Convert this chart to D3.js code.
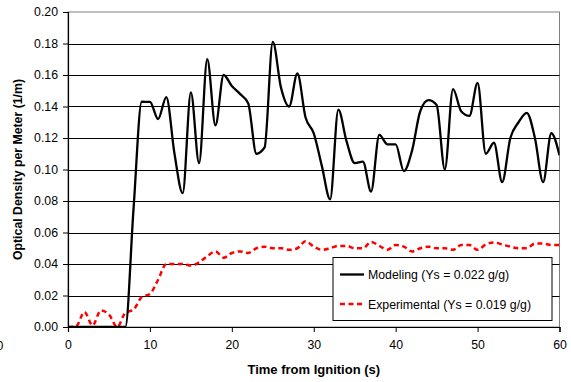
<!DOCTYPE html>
<html>
<head>
<meta charset="utf-8">
<script src="https://cdn.jsdelivr.net/npm/d3@7"></script>
<style>
    body { margin: 0; background: #fff; }
    svg { display: block; font-family: "Liberation Sans", Arial, sans-serif; }
</style>
</head>
<body>
<svg id="chart"></svg>
<script>
// time axis (s), one sample per second
let times = d3.range(0, 61);

let modeling = [
    0, 0, 0, 0, 0, 0, 0, 0, 0.075, 0.143,
    0.143, 0.132, 0.146, 0.110, 0.085, 0.149, 0.104, 0.170, 0.128, 0.160,
    0.153, 0.148, 0.142, 0.110, 0.114, 0.181, 0.152, 0.140, 0.161, 0.133,
    0.123, 0.102, 0.081, 0.138, 0.118, 0.104, 0.105, 0.086, 0.122, 0.116,
    0.116, 0.099, 0.112, 0.137, 0.144, 0.141, 0.100, 0.151, 0.137, 0.134,
    0.155, 0.110, 0.117, 0.092, 0.120, 0.130, 0.136, 0.120, 0.092, 0.123,
    0.109
];

let experimental = [
    0, 0.0005, 0.0095, 0.001, 0.0105, 0.008, 0, 0.009, 0.011, 0.019,
    0.021, 0.030, 0.040, 0.040, 0.040, 0.039, 0.041, 0.045, 0.048, 0.044,
    0.047, 0.048, 0.047, 0.050, 0.051, 0.050, 0.050, 0.049, 0.050, 0.0545,
    0.051, 0.049, 0.050, 0.0515, 0.0515, 0.050, 0.050, 0.054, 0.0515, 0.049,
    0.052, 0.051, 0.048, 0.050, 0.051, 0.050, 0.050, 0.049, 0.052, 0.052,
    0.049, 0.0524, 0.0537, 0.0524, 0.051, 0.050, 0.050, 0.053, 0.053, 0.052,
    0.052
];

let xTicks = [0, 10, 20, 30, 40, 50, 60];
let yTicks = [0, 0.02, 0.04, 0.06, 0.08, 0.10, 0.12, 0.14, 0.16, 0.18, 0.20];
let legendLabels = ['Modeling (Ys = 0.022 g/g)', 'Experimental (Ys = 0.019 g/g)'];

let margin = {top: 12, right: 12, bottom: 55, left: 68};
let totalWidth = 571;
let totalHeight = 382;
let width = 559.5 - margin.left;
let height = 327 - margin.top;
let fontSize = 12.3;

let root = d3.select('#chart')
    .attr('width', totalWidth)
    .attr('height', totalHeight);

let svg = root.append('g')
    .attr('transform', 'translate(' + margin.left + ',' + margin.top + ')');

let xScale = d3.scaleLinear().domain([0, 60]).range([0, width]);
let yScale = d3.scaleLinear().domain([0, 0.2]).range([height, 0]);

// plot frame (grey top/right)
svg.append('rect')
    .attr('x', 0).attr('y', 0)
    .attr('width', width).attr('height', height)
    .attr('fill', 'none')
    .attr('stroke', '#808080')
    .attr('stroke-width', 1);

// horizontal gridlines
svg.append('g')
    .selectAll('line')
    .data(yTicks.filter(function (d) { return d > 0 && d < 0.2; }))
    .enter()
    .append('line')
    .attr('x1', 0)
    .attr('x2', width)
    .attr('y1', function (d) { return Math.round(yScale(d)) + 0.5; })
    .attr('y2', function (d) { return Math.round(yScale(d)) + 0.5; })
    .attr('stroke', '#000')
    .attr('stroke-width', 1);

let xAxis = d3.axisBottom(xScale)
    .tickValues(xTicks)
    .tickSize(5)
    .tickPadding(8)
    .tickFormat(d3.format('d'));
let gx = svg.append('g')
    .attr('transform', 'translate(0,' + height + ')')
    .call(xAxis);
gx.selectAll('text').attr('font-size', fontSize).attr('fill', '#000');

let yAxis = d3.axisLeft(yScale)
    .tickValues(yTicks)
    .tickSize(5)
    .tickPadding(5)
    .tickFormat(d3.format('.2f'));
let gy = svg.append('g').call(yAxis);
gy.selectAll('text').attr('font-size', fontSize).attr('fill', '#000');

[gx, gy].forEach(function (g) {
    g.select('.domain').attr('stroke', '#000').attr('stroke-width', 1.2);
    g.selectAll('.tick line').attr('stroke', '#000');
});

// stray "0" label seen at the far left of the axis row (cut off in the original too)
root.append('text')
    .attr('x', 0)
    .attr('y', margin.top + height + 23)
    .attr('text-anchor', 'middle')
    .attr('font-size', fontSize)
    .text('0');

let clip = svg.append('clipPath').attr('id', 'plotClip');
clip.append('rect').attr('x', 0).attr('y', -2).attr('width', width).attr('height', height + 2);

let line = d3.line()
    .x(function (d) { return xScale(d[0]); })
    .y(function (d) { return yScale(d[1]); })
    .curve(d3.curveMonotoneX);

svg.append('path')
    .datum(times.map(function (t, i) { return [t, experimental[i]]; }))
    .attr('clip-path', 'url(#plotClip)')
    .attr('d', line)
    .attr('fill', 'none')
    .attr('stroke', '#ff0000')
    .attr('stroke-width', 2.5)
    .attr('stroke-dasharray', '5,3.5');

svg.append('path')
    .datum(times.map(function (t, i) { return [t, modeling[i]]; }))
    .attr('clip-path', 'url(#plotClip)')
    .attr('d', line)
    .attr('fill', 'none')
    .attr('stroke', '#000')
    .attr('stroke-width', 2.3)
    .attr('stroke-linejoin', 'round');

// axis titles
root.append('text')
    .attr('x', margin.left + width / 2)
    .attr('y', 374)
    .attr('text-anchor', 'middle')
    .attr('font-size', 13)
    .attr('font-weight', 'bold')
    .text('Time from Ignition (s)');

root.append('text')
    .attr('transform', 'translate(22,' + (margin.top + height / 2) + ') rotate(-90)')
    .attr('text-anchor', 'middle')
    .attr('font-size', fontSize)
    .attr('font-weight', 'bold')
    .text('Optical Density per Meter (1/m)');

// legend
let legend = root.append('g').attr('transform', 'translate(333,257.5)');
legend.append('rect')
    .attr('width', 219)
    .attr('height', 63)
    .attr('fill', '#fff')
    .attr('stroke', '#000')
    .attr('stroke-width', 1);

let styles = [
    {color: '#000', dash: null, width: 2.3},
    {color: '#ff0000', dash: '5,3.5', width: 2.5}
];
legendLabels.forEach(function (label, i) {
    let y = 17 + i * 29.5;
    legend.append('line')
        .attr('x1', 7).attr('x2', 31)
        .attr('y1', y).attr('y2', y)
        .attr('stroke', styles[i].color)
        .attr('stroke-width', styles[i].width)
        .attr('stroke-dasharray', styles[i].dash);
    legend.append('text')
        .attr('x', 35)
        .attr('y', y + 4.5)
        .attr('font-size', fontSize)
        .text(label);
});
</script>
</body>
</html>
